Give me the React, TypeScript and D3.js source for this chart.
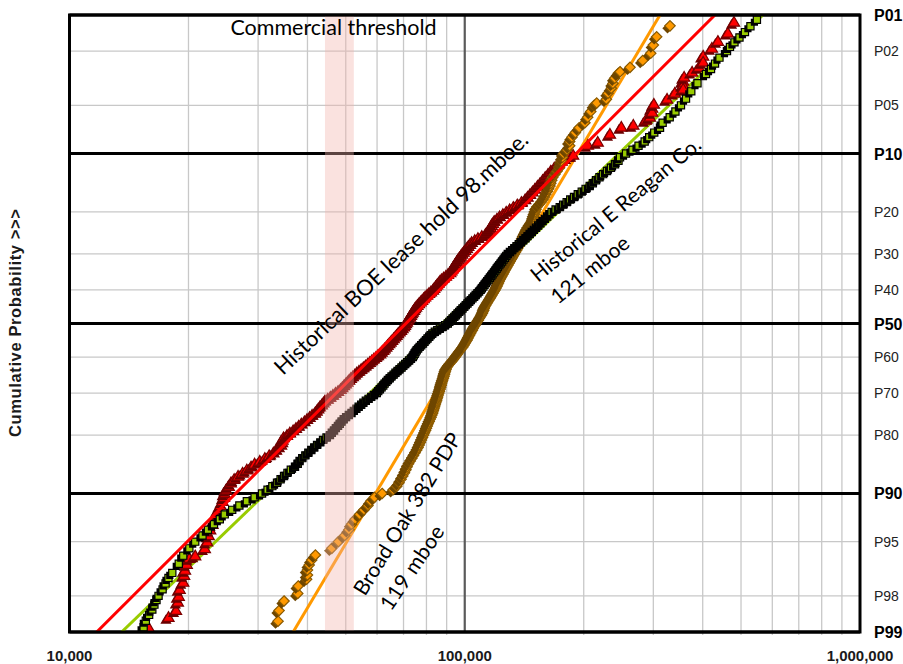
import React from "react";
import * as d3 from "d3";

// ---------- data ----------
// x axis: recoverable volume (thousand BOE); y axis: cumulative probability (P-value, percent)
const xTickValues = [10, 100, 1000];
const xTickLabels = ["10,000", "100,000", "1,000,000"];
const xGridValues = [20, 30, 40, 50, 60, 70, 80, 90, 200, 300, 400, 500, 600, 700, 800, 900];
const xMajorGrid = [100];
const probGrid = [1, 2, 5, 10, 20, 30, 40, 50, 60, 70, 80, 90, 95, 98, 99];
const probMajor = [1, 10, 50, 90, 99];
const probLabels = ["P01", "P02", "P05", "P10", "P20", "P30", "P40", "P50", "P60", "P70", "P80", "P90", "P95", "P98", "P99"];
const thresholdBand = [44.3, 52.4];

// fitted lognormal lines: [percentile, kboe] end points
const fitBOE: [number, number][] = [[99, 11.72], [1, 429.6]];
const fitReagan: [number, number][] = [[99, 13.55], [1, 568]];
const fitBroadOak: [number, number][] = [[99, 36.8], [1, 311.9]];

// Historical BOE lease hold (red triangles): [percentile, kboe]
const boePts: [number, number][] = [
  [1.15, 480], [1.42, 463], [1.66, 437], [1.89, 422], [2.18, 401], [2.43, 401], [2.66, 391], [2.89, 376],
  [3.15, 359], [3.37, 357], [3.6, 357], [3.84, 357], [4.1, 340], [4.52, 325], [4.89, 301], [5.21, 298],
  [5.54, 298], [5.97, 294], [6.24, 287], [6.72, 267], [6.92, 249], [7.65, 233], [8.55, 217], [8.92, 205],
  [10.19, 188], [10.5, 182.6], [11, 175.9], [11.5, 172.1], [12, 168.5], [12.5, 165.0], [13, 162.4],
  [13.5, 159.8], [14, 157.4], [14.5, 155.1], [15, 152.8], [15.5, 150.5], [16, 148.4], [16.5, 146.3],
  [17, 144.2], [17.5, 142.2], [18, 139.1], [18.5, 135.8], [19, 132.7], [19.5, 129.9], [20, 127.3],
  [20.5, 124.9], [21, 122.5], [21.5, 120.6], [22, 118.7], [22.5, 117.9], [23, 117.1], [23.5, 116.3],
  [24, 115.5], [24.5, 114.2], [25, 112.9], [25.5, 110.4], [26, 108.0], [26.5, 106.0], [27, 104.1],
  [27.5, 103.1], [28, 102.1], [28.5, 101.2], [29, 100.3], [29.5, 99.4], [30, 98.5], [30.5, 97.7],
  [31, 96.9], [31.5, 96.2], [32, 95.6], [32.5, 94.9], [33, 94.3], [33.5, 93.7], [34, 93.1], [34.5, 92.5],
  [35, 91.9], [35.5, 90.7], [36, 89.6], [36.5, 88.4], [37, 87.3], [37.5, 86.5], [38, 85.8], [38.5, 85.1],
  [39, 84.4], [39.5, 83.7], [40, 83.1], [40.5, 82.1], [41, 81.2], [41.5, 80.3], [42, 79.4], [42.5, 78.7],
  [43, 78.0], [43.5, 77.3], [44, 76.6], [44.5, 75.9], [45, 75.3], [45.5, 74.8], [46, 74.4], [46.5, 73.9],
  [47, 73.5], [47.5, 73.1], [48, 72.7], [48.5, 72.2], [49, 71.8], [49.5, 71.4], [50, 71.0], [50.5, 70.6],
  [51, 70.2], [51.5, 69.6], [52, 69.0], [52.5, 68.4], [53, 67.8], [53.5, 67.2], [54, 66.7], [54.5, 66.1],
  [55, 65.5], [55.5, 64.9], [56, 64.4], [56.5, 63.8], [57, 63.3], [57.5, 62.7], [58, 62.2], [58.5, 61.6],
  [59, 61.1], [59.5, 60.3], [60, 59.6], [60.5, 58.9], [61, 58.2], [61.5, 57.5], [62, 56.8], [62.5, 56.1],
  [63, 55.4], [63.5, 54.7], [64, 54.0], [64.5, 53.3], [65, 52.7], [65.5, 52.1], [66, 51.5], [66.5, 51.0],
  [67, 50.5], [67.5, 50.0], [68, 49.5], [68.5, 49.0], [69, 48.5], [69.5, 47.8], [70, 47.1], [70.5, 46.4],
  [71, 45.7], [71.5, 45.0], [72, 44.3], [72.5, 43.9], [73, 43.5], [73.5, 43.0], [74, 42.6], [74.5, 42.2],
  [75, 41.8], [75.5, 41.1], [76, 40.5], [76.5, 39.9], [77, 39.3], [77.5, 38.6], [78, 38.0], [78.5, 37.4],
  [79, 36.8], [79.5, 36.1], [80, 35.5], [80.5, 34.8], [81, 34.6], [81.5, 34.5], [82, 34.3],
  [82.5, 33.8], [83, 33.3], [83.5, 32.8], [84, 32.0], [84.5, 31.2], [85, 30.3], [85.5, 29.4], [86, 28.8],
  [86.5, 28.1], [87, 27.4], [87.5, 26.7], [88, 26.1], [88.5, 25.6], [89, 25.3], [89.5, 24.9], [90, 24.7],
  [90.5, 24.6], [91, 24.4], [91.5, 24.1], [92, 23.8], [92.5, 23.5], [93, 23.3], [93.5, 23.0], [94, 22.7],
  [94.5, 22.5], [95, 22.3], [95.5, 22.0], [96, 20.8], [96.16, 20.1], [96.52, 19.8], [96.85, 19.6],
  [97.11, 19.5], [97.44, 19.4], [97.74, 19.0], [98.01, 18.9], [98.21, 18.8], [98.47, 18.6], [98.66, 17.8],
  [98.92, 15.9],
];

// Historical E Reagan Co. (green/black squares)
const reaganPts: [number, number][] = [
  [1.1, 548.5], [1.25, 528.2], [1.4, 511.6], [1.55, 495.5], [1.7, 481.3], [1.85, 468.8], [2, 460.7],
  [2.25, 441.0], [2.5, 429.7], [2.75, 419.8], [3, 407.7], [3.5, 388.0], [4, 374.2], [4.5, 362.9],
  [5, 352.4], [5.5, 341.2], [6, 330.0], [6.5, 316.7], [7, 311.9], [7.5, 301.6], [8, 292.9], [8.5, 285.2],
  [9, 275.2], [9.5, 265.7], [10, 255.9], [10.5, 247.1], [11, 244.9], [11.5, 240.0], [12, 234.4],
  [12.5, 229.1], [13, 224.0], [13.5, 219.2], [14, 214.8], [14.5, 210.9], [15, 207.1], [15.5, 202.2],
  [16, 197.7], [16.5, 193.2], [17, 189.0], [17.5, 184.9], [18, 181.1], [18.5, 177.4], [19, 173.9],
  [19.5, 169.8], [20, 165.9], [20.5, 163.7], [21, 161.6], [21.5, 159.5], [22, 157.4], [22.5, 155.4],
  [23, 153.4], [23.5, 151.5], [24, 149.6], [24.5, 147.8], [25, 146.0], [25.5, 144.2], [26, 142.5],
  [26.5, 140.6], [27, 138.8], [27.5, 137.0], [28, 135.2], [28.5, 133.5], [29, 131.8], [29.5, 130.1],
  [30, 128.5], [30.5, 127.4], [31, 126.4], [31.5, 125.3], [32, 124.3], [32.5, 123.3], [33, 122.3],
  [33.5, 121.3], [34, 120.4], [34.5, 119.5], [35, 118.6], [35.5, 117.6], [36, 116.7], [36.5, 115.8],
  [37, 114.9], [37.5, 114.0], [38, 113.1], [38.5, 112.2], [39, 111.4], [39.5, 110.5], [40, 109.7],
  [40.5, 108.7], [41, 107.7], [41.5, 106.6], [42, 105.6], [42.5, 104.6], [43, 103.6], [43.5, 102.6],
  [44, 101.6], [44.5, 100.6], [45, 99.7], [45.5, 98.7], [46, 97.7], [46.5, 96.8], [47, 95.9], [47.5, 95.0],
  [48, 94.1], [48.5, 93.2], [49, 92.3], [49.5, 91.4], [50, 90.6], [50.5, 89.2], [51, 87.9], [51.5, 86.5],
  [52, 85.2], [52.5, 84.0], [53, 82.8], [53.5, 82.0], [54, 81.3], [54.5, 80.5], [55, 79.8], [55.5, 79.1],
  [56, 78.4], [56.5, 77.6], [57, 76.9], [57.5, 76.2], [58, 75.6], [58.5, 75.1], [59, 74.7], [59.5, 74.3],
  [60, 73.9], [60.5, 73.1], [61, 72.3], [61.5, 71.5], [62, 70.7], [62.5, 69.9], [63, 69.2], [63.5, 68.4],
  [64, 67.6], [64.5, 66.8], [65, 66.1], [65.5, 65.3], [66, 64.6], [66.5, 63.9], [67, 63.3], [67.5, 62.7],
  [68, 62.2], [68.5, 61.6], [69, 61.0], [69.5, 60.4], [70, 59.9], [70.5, 58.9], [71, 58.0], [71.5, 57.1],
  [72, 56.2], [72.5, 55.4], [73, 54.7], [73.5, 53.9], [74, 53.2], [74.5, 52.4], [75, 51.7], [75.5, 50.9],
  [76, 50.1], [76.5, 49.4], [77, 48.8], [77.5, 48.3], [78, 47.8], [78.5, 47.2], [79, 46.7], [79.5, 46.1],
  [80, 45.6], [80.5, 44.7], [81, 43.8], [81.5, 43.1], [82, 42.3], [82.5, 41.6], [83, 40.9], [83.5, 40.2],
  [84, 39.5], [84.5, 38.8], [85, 38.2], [85.5, 37.8], [86, 37.2], [86.5, 36.3], [87, 35.6], [87.5, 34.9],
  [88, 34.2], [88.5, 33.5], [89, 32.6], [89.5, 31.7], [90, 30.7], [90.5, 29.4], [91, 28.1], [91.5, 26.9],
  [92, 25.8], [92.5, 24.7], [93, 24.0], [93.5, 23.2], [94, 22.4], [94.5, 21.7], [95, 20.8], [95.5, 20.1],
  [96, 19.4], [96.5, 18.9], [97, 18.2], [97.25, 17.8], [97.5, 17.5], [97.75, 17.2], [98, 16.8],
  [98.15, 16.6], [98.3, 16.4], [98.45, 16.2], [98.6, 15.9], [98.75, 15.6], [98.9, 15.4],
];

// Broad Oak 382 PDP (orange diamonds)
const broadOakPts: [number, number][] = [
  [98.76, 33.7], [98.48, 33.9], [98.18, 34.9], [97.91, 37.8], [97.61, 37.9], [97.31, 39.8], [97.11, 40.0],
  [96.85, 40.0], [96.57, 40.4], [96.28, 41.0], [95.96, 41.9],
  [95.5, 46.1], [95, 47.9], [94.5, 49.7], [94, 50.9], [93.5, 51.7], [93, 52.8], [92.5, 54.2], [92, 55.6],
  [91.5, 56.9], [91, 57.8], [90.5, 59.1], [90, 61.8], [89.5, 65.9], [89, 67.3], [88.5, 68.2], [88, 69.0],
  [87.5, 69.7], [87, 70.4], [86.5, 71.0], [86, 71.5], [85.5, 72.1], [85, 72.8], [84.5, 73.5], [84, 74.2],
  [83.5, 74.9], [83, 75.6], [82.5, 76.2], [82, 76.7], [81.5, 77.2], [81, 77.7], [80.5, 78.2], [80, 78.7],
  [79.5, 79.1], [79, 79.6], [78.5, 80.0], [78, 80.4], [77.5, 80.8], [77, 81.3], [76.5, 81.7], [76, 82.2],
  [75.5, 82.6], [75, 83.0], [74.5, 83.3], [74, 83.6], [73.5, 83.9], [73, 84.2], [72.5, 84.5], [72, 84.9],
  [71.5, 85.1], [71, 85.4], [70.5, 85.7], [70, 86.0], [69.5, 86.3], [69, 86.6], [68.5, 86.9], [68, 87.2],
  [67.5, 87.4], [67, 87.7], [66.5, 88.0], [66, 88.3], [65.5, 88.6], [65, 88.9], [64.5, 89.1], [64, 89.4],
  [63.5, 89.7], [63, 90.0], [62.5, 90.7], [62, 91.4], [61.5, 92.2], [61, 93.1], [60.5, 93.8], [60, 94.5],
  [59.5, 95.2], [59, 95.9], [58.5, 96.6], [58, 97.4], [57.5, 98.1], [57, 98.9], [56.5, 99.5], [56, 100.1],
  [55.5, 100.7], [55, 101.3], [54.5, 101.8], [54, 102.3], [53.5, 102.8], [53, 103.4], [52.5, 103.9],
  [52, 104.5], [51.5, 105.0], [51, 105.5], [50.5, 106.2], [50, 106.9], [49.5, 107.5], [49, 108.2],
  [48.5, 108.8], [48, 109.5], [47.5, 110.1], [47, 110.8], [46.5, 111.2], [46, 111.7], [45.5, 112.0],
  [45, 112.4], [44.5, 113.0], [44, 113.7], [43.5, 114.4], [43, 115.1], [42.5, 115.8], [42, 116.5],
  [41.5, 117.2], [41, 117.9], [40.5, 118.6], [40, 119.3], [39.5, 119.9], [39, 120.6], [38.5, 121.1],
  [38, 121.7], [37.5, 122.2], [37, 122.8], [36.5, 123.5], [36, 124.2], [35.5, 124.9], [35, 125.6],
  [34.5, 126.3], [34, 127.1], [33.5, 127.8], [33, 128.6], [32.5, 129.4], [32, 130.2], [31.5, 131.0],
  [31, 131.9], [30.5, 132.7], [30, 133.5], [29.5, 134.4], [29, 135.4], [28.5, 136.1], [28, 136.8],
  [27.5, 137.6], [27, 138.4], [26.5, 139.2], [26, 140.0], [25.5, 140.7], [25, 141.5], [24.5, 142.4],
  [24, 143.3], [23.5, 144.1], [23, 145.2], [22.5, 146.5], [22, 147.9], [21.5, 148.9], [21, 149.4],
  [20.5, 150.0], [20, 150.7], [19.5, 151.4], [19, 152.1], [18.5, 154.0], [18, 156.0], [17.5, 157.7],
  [17, 159.0], [16.5, 160.3], [16, 161.7], [15.5, 163.0], [15, 164.3], [14.5, 165.1], [14, 166.0],
  [13.5, 167.0], [13, 169.1], [12.5, 171.3], [12, 173.7], [11.5, 174.7], [11, 175.6], [10.5, 176.8],
  [10, 177.8], [9.5, 181.4], [9, 184.3], [8.5, 184.3], [8, 186.7], [7.5, 190.5], [7, 194.7], [6.5, 201.4],
  [6, 204.6], [5.5, 208.4], [5, 212.7], [4.82, 215.7], [4.54, 228.2], [4.13, 230.4], [3.8, 234.9],
  [3.51, 237.1], [3.22, 239.5], [2.96, 244.7], [2.88, 247.1], [2.67, 261.9], [2.37, 282.0], [2.08, 295.5],
  [1.79, 300.0], [1.53, 305.9], [1.24, 330.6],
];

// ---------- helpers ----------
function normInv(p: number): number {
  const a = [-3.969683028665376e1, 2.209460984245205e2, -2.759285104469687e2, 1.38357751867269e2, -3.066479806614716e1, 2.506628277459239];
  const b = [-5.447609879822406e1, 1.615858368580409e2, -1.556989798598866e2, 6.680131188771972e1, -1.328068155288572e1];
  const c = [-7.784894002430293e-3, -3.223964580411365e-1, -2.400758277161838, -2.549732539343734, 4.374664141464968, 2.938163982698783];
  const d = [7.784695709041462e-3, 3.224671290700398e-1, 2.445134137142996, 3.754408661907416];
  const plow = 0.02425;
  if (p < plow) {
    const q = Math.sqrt(-2 * Math.log(p));
    return (((((c[0] * q + c[1]) * q + c[2]) * q + c[3]) * q + c[4]) * q + c[5]) / ((((d[0] * q + d[1]) * q + d[2]) * q + d[3]) * q + 1);
  }
  if (p > 1 - plow) {
    const q = Math.sqrt(-2 * Math.log(1 - p));
    return -(((((c[0] * q + c[1]) * q + c[2]) * q + c[3]) * q + c[4]) * q + c[5]) / ((((d[0] * q + d[1]) * q + d[2]) * q + d[3]) * q + 1);
  }
  const q = p - 0.5;
  const r = q * q;
  return ((((((a[0] * r + a[1]) * r + a[2]) * r + a[3]) * r + a[4]) * r + a[5]) * q) / (((((b[0] * r + b[1]) * r + b[2]) * r + b[3]) * r + b[4]) * r + 1);
}

const TRI = "M0,-5.5L5.6,4.2L-5.6,4.2Z";
const SQ = "M-3.6,-3.6h7.2v7.2h-7.2Z";
const DIA = "M0,-5.2L5.2,0L0,5.2L-5.2,0Z";

export default function App() {
  const W = 903, H = 664;
  const L = 69.5, R = 860, T = 15, B = 632;
  const x = d3.scaleLog().domain([10, 1000]).range([L, R]);
  const yz = d3.scaleLinear().domain([normInv(0.01), normInv(0.99)]).range([T, B]);
  const y = (p: number) => yz(normInv(p / 100));
  const line = d3.line<[number, number]>().x((d) => x(d[1])).y((d) => y(d[0]));

  const markers = (pts: [number, number][], path: string, fill: string, stroke: string, shadow: string, key: string) => {
    // draw from the smallest value (bottom-left) to the largest (top-right)
    const sorted = pts.slice().sort((a, b) => a[1] - b[1]);
    return (
      <g key={key}>
        {sorted.map((d, i) => {
          const cx = x(d[1]), cy = y(d[0]);
          return (
            <g key={i} transform={`translate(${cx},${cy})`}>
              <path d={path} transform="translate(-2.5,2.5)" fill={shadow} />
              <path d={path} fill={fill} stroke={stroke} strokeWidth={1.2} />
            </g>
          );
        })}
      </g>
    );
  };

  const annFont = "Lato, 'Open Sans', sans-serif";

  return (
    <svg width={W} height={H} style={{ position: "absolute", left: 0, top: 0, background: "#fff" }} xmlns="http://www.w3.org/2000/svg">
      <defs>
        <clipPath id="plot">
          <rect x={L} y={T} width={R - L} height={B - T} />
        </clipPath>
      </defs>
      <rect x={0} y={0} width={W} height={H} fill="#fff" />
      {/* minor grid */}
      {xGridValues.map((v) => (
        <line key={"xg" + v} x1={x(v)} x2={x(v)} y1={T} y2={B + 3} stroke="#c8c8c8" strokeWidth={1.3} />
      ))}
      {probGrid.filter((p) => probMajor.indexOf(p) < 0).map((p) => (
        <line key={"yg" + p} x1={L} x2={R} y1={y(p)} y2={y(p)} stroke="#c8c8c8" strokeWidth={1.3} />
      ))}
      {xMajorGrid.map((v) => (
        <line key={"xm" + v} x1={x(v)} x2={x(v)} y1={T} y2={B} stroke="#5a5a5a" strokeWidth={2.2} />
      ))}
      {probMajor.map((p) => (
        <line key={"ym" + p} x1={L} x2={R} y1={y(p)} y2={y(p)} stroke="#000" strokeWidth={3} />
      ))}

      <g clipPath="url(#plot)">
        <path d={line(fitReagan) || ""} stroke="#99cc00" strokeWidth={3} fill="none" />
        <path d={line(fitBroadOak) || ""} stroke="#ff9900" strokeWidth={3} fill="none" />
        {markers(boePts, TRI, "#ff0000", "#7a0000", "#6a0000", "boe")}
        {markers(broadOakPts, DIA, "#ff9900", "#8a5a00", "#6e4600", "bo")}
        {markers(reaganPts, SQ, "#99cc00", "#000", "#000", "rg")}
        <path d={line(fitBOE) || ""} stroke="#ff0000" strokeWidth={3} fill="none" />
      </g>

      {/* commercial threshold band */}
      <rect x={x(thresholdBand[0])} y={T} width={x(thresholdBand[1]) - x(thresholdBand[0])} height={B - T} fill="#f2b4ac" opacity={0.38} />

      {/* frame */}
      <rect x={L} y={T} width={R - L} height={B - T} fill="none" stroke="#000" strokeWidth={3} />

      {/* right labels */}
      {probGrid.map((p, i) => {
        const major = probMajor.indexOf(p) >= 0;
        return (
          <text key={"pl" + p} x={874} y={y(p)} dy={major ? 6 : 5} fontFamily="'Liberation Sans', Arial, sans-serif"
            fontSize={major ? 16 : 14} fontWeight={major ? 700 : 400} fill={major ? "#000" : "#222"}>
            {probLabels[i]}
          </text>
        );
      })}
      {/* x labels */}
      {xTickValues.map((v, i) => (
        <text key={"xl" + v} x={x(v)} y={661} textAnchor="middle" fontFamily="'Liberation Sans', Arial, sans-serif" fontSize={15} fontWeight={700} fill="#1a1a1a">
          {xTickLabels[i]}
        </text>
      ))}
      {/* y title */}
      <text transform="translate(21,323) rotate(-90)" textAnchor="middle" fontFamily="'Liberation Sans', Arial, sans-serif" fontSize={16.5} fontWeight={700} fill="#1a1a1a"
        textLength={228} lengthAdjust="spacing">
        Cumulative Probability &gt;&gt;&gt;
      </text>

      {/* annotations */}
      <text x={333.5} y={35} textAnchor="middle" fontFamily={annFont} fontSize={21.5} fill="#000">Commercial threshold</text>
      <text transform="translate(283,376) rotate(-43.5)" fontFamily={annFont} fontSize={22} fill="#000">Historical BOE lease hold 98.mboe.</text>
      <text transform="translate(538,283) rotate(-39.5)" fontFamily={annFont} fontSize={21} fill="#000">Historical E Reagan Co.</text>
      <text transform="translate(558,305) rotate(-39)" fontFamily={annFont} fontSize={21} fill="#000">121 mboe</text>
      <text transform="translate(365,597) rotate(-58.5)" fontFamily={annFont} fontSize={21} fill="#000" textLength={186} lengthAdjust="spacing">Broad Oak 382 PDP</text>
      <text transform="translate(391,612) rotate(-56)" fontFamily={annFont} fontSize={21} fill="#000" textLength={97} lengthAdjust="spacing">119 mboe</text>
    </svg>
  );
}
